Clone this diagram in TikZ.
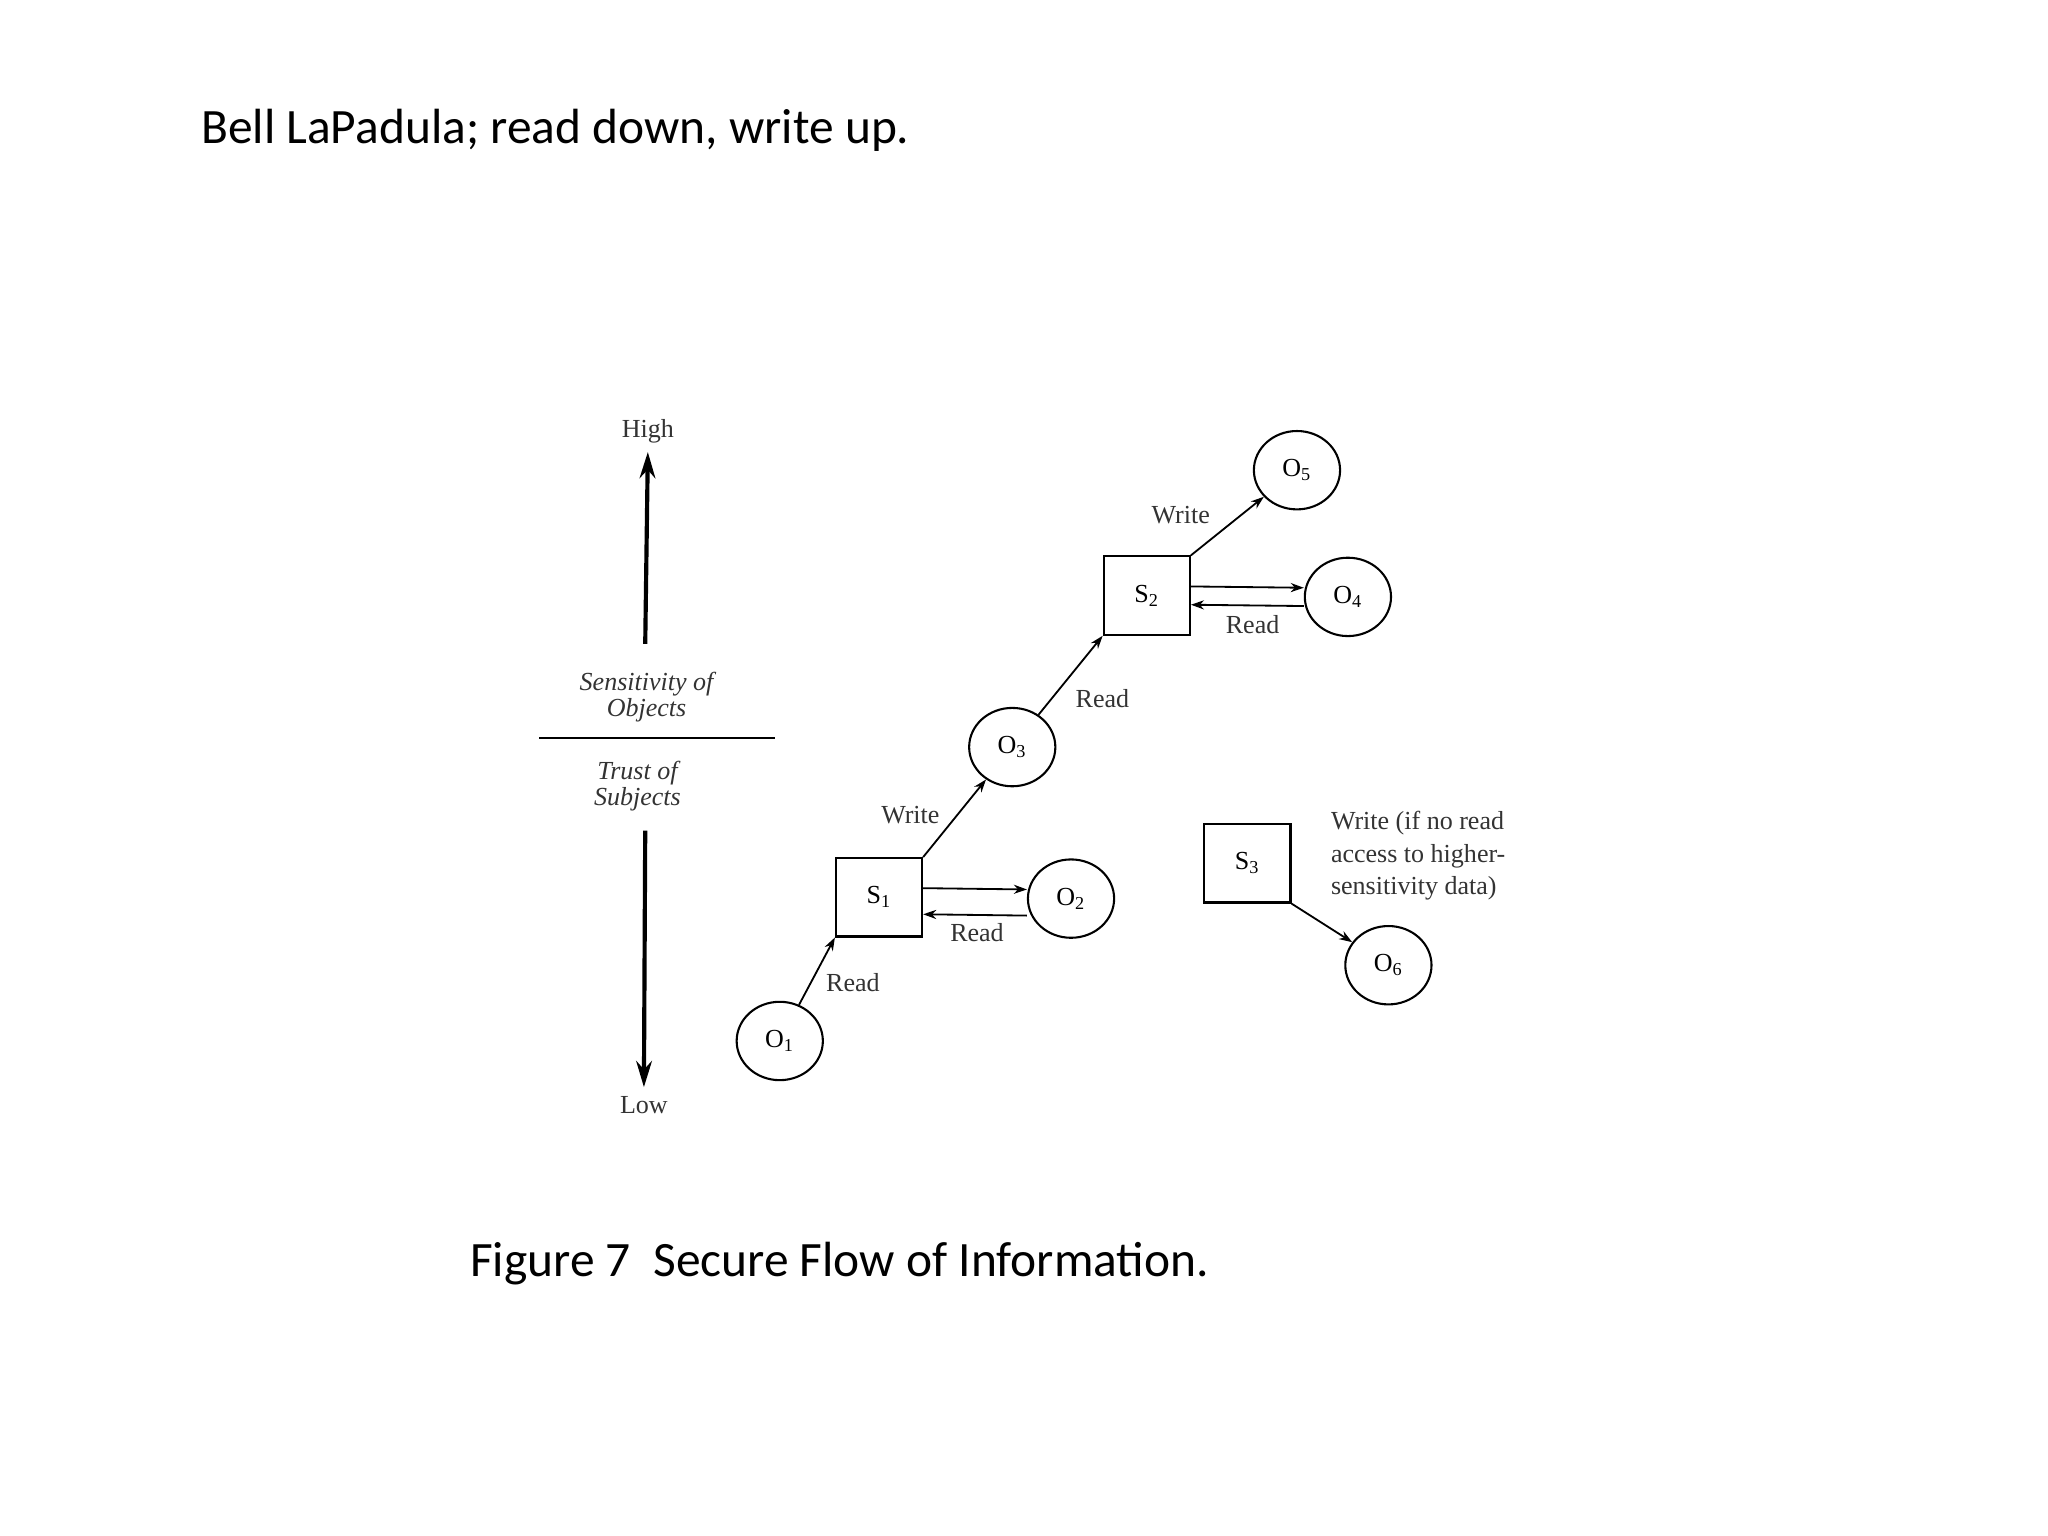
\documentclass[tikz,border=0pt]{standalone}
\usepackage{fontspec}
\setmainfont{Liberation Serif}
\newfontfamily\titlefont{Carlito}
\usetikzlibrary{shapes.geometric,arrows.meta}
\begin{document}
\begin{tikzpicture}[x=0.5bp,y=-0.5bp,
  obj/.style={ellipse,draw,line width=0.8pt,minimum width=33bp,minimum height=30bp,inner sep=0pt,font=\fontsize{10}{12}\selectfont},
  subj/.style={rectangle,draw,line width=0.8pt,minimum width=33bp,minimum height=30bp,inner sep=0pt,font=\fontsize{10}{12}\selectfont},
  lab/.style={font=\fontsize{10}{12}\selectfont,text=black!80},
  arr/.style={-{Stealth[length=5bp,width=3.5bp]},line width=0.7pt},
  axis/.style={-{Stealth[length=10bp,width=6bp]},line width=1.6pt}]
\useasboundingbox (0,0) rectangle (1568,1176);
\node[anchor=base west,font=\titlefont\fontsize{19}{22}\selectfont] (title) at (147,110) {Bell LaPadula; read down, write up.};
\node[anchor=base west,font=\titlefont\fontsize{19}{22}\selectfont] (cap) at (353,977) {Figure 7\ \ Secure Flow of Information.};
% axis
\node[lab] (high) at (496,330) {High};
\node[lab] (low) at (493,846) {Low};
\coordinate (a1) at (494,493);
\coordinate (a2) at (494,636);
\draw[axis] (a1) -- (high.south);
\draw[axis] (a2) -- (low.north);
\node[lab,align=center,font=\itshape\fontsize{10}{10}\selectfont] (sens) at (495,534) {Sensitivity of\\Objects};
\node[lab,align=center,font=\itshape\fontsize{10}{10}\selectfont] (trust) at (488,602) {Trust of\\Subjects};
\coordinate (l1) at (413,565); \coordinate (l2) at (593,565);
\draw[line width=0.6pt] (l1) -- (l2);
% nodes
\node[obj] (O1) at (597,797) {O\textsubscript{1}};
\node[subj] (S1) at (673,687) {S\textsubscript{1}};
\node[obj] (O2) at (820,688) {O\textsubscript{2}};
\node[obj] (O3) at (775,572) {O\textsubscript{3}};
\node[subj] (S2) at (878,456) {S\textsubscript{2}};
\node[obj] (O4) at (1032,457) {O\textsubscript{4}};
\node[obj] (O5) at (993,360) {O\textsubscript{5}};
\node[subj] (S3) at (955,661) {S\textsubscript{3}};
\node[obj] (O6) at (1063,739) {O\textsubscript{6}};
% connectors
\draw[arr] (O1) -- (S1.south west);
\draw[arr] ([yshift=3.5bp]S1.east) -- ([yshift=3.5bp]O2.west);
\draw[arr] ([yshift=-6.5bp]O2.west) -- ([yshift=-6.5bp]S1.east);
\draw[arr] (S1.north east) -- (O3);
\draw[arr] (O3) -- (S2.south west);
\draw[arr] ([yshift=3.5bp]S2.east) -- ([yshift=3.5bp]O4.west);
\draw[arr] ([yshift=-3.5bp]O4.west) -- ([yshift=-3.5bp]S2.east);
\draw[arr] (S2.north east) -- (O5);
\draw[arr] (S3.south east) -- (O6);
% labels
\node[lab] (r1) at (653,752) {Read};
\node[lab] (r2) at (748,714) {Read};
\node[lab] (w1) at (697,624) {Write};
\node[lab] (r3) at (844,535) {Read};
\node[lab] (w2) at (904,394) {Write};
\node[lab] (r4) at (959,478) {Read};
\node[lab,align=left,anchor=north west,font=\fontsize{10}{12.5}\selectfont] (w3) at (1012,614) {Write (if no read\\access to higher-\\sensitivity data)};
\end{tikzpicture}
\end{document}
